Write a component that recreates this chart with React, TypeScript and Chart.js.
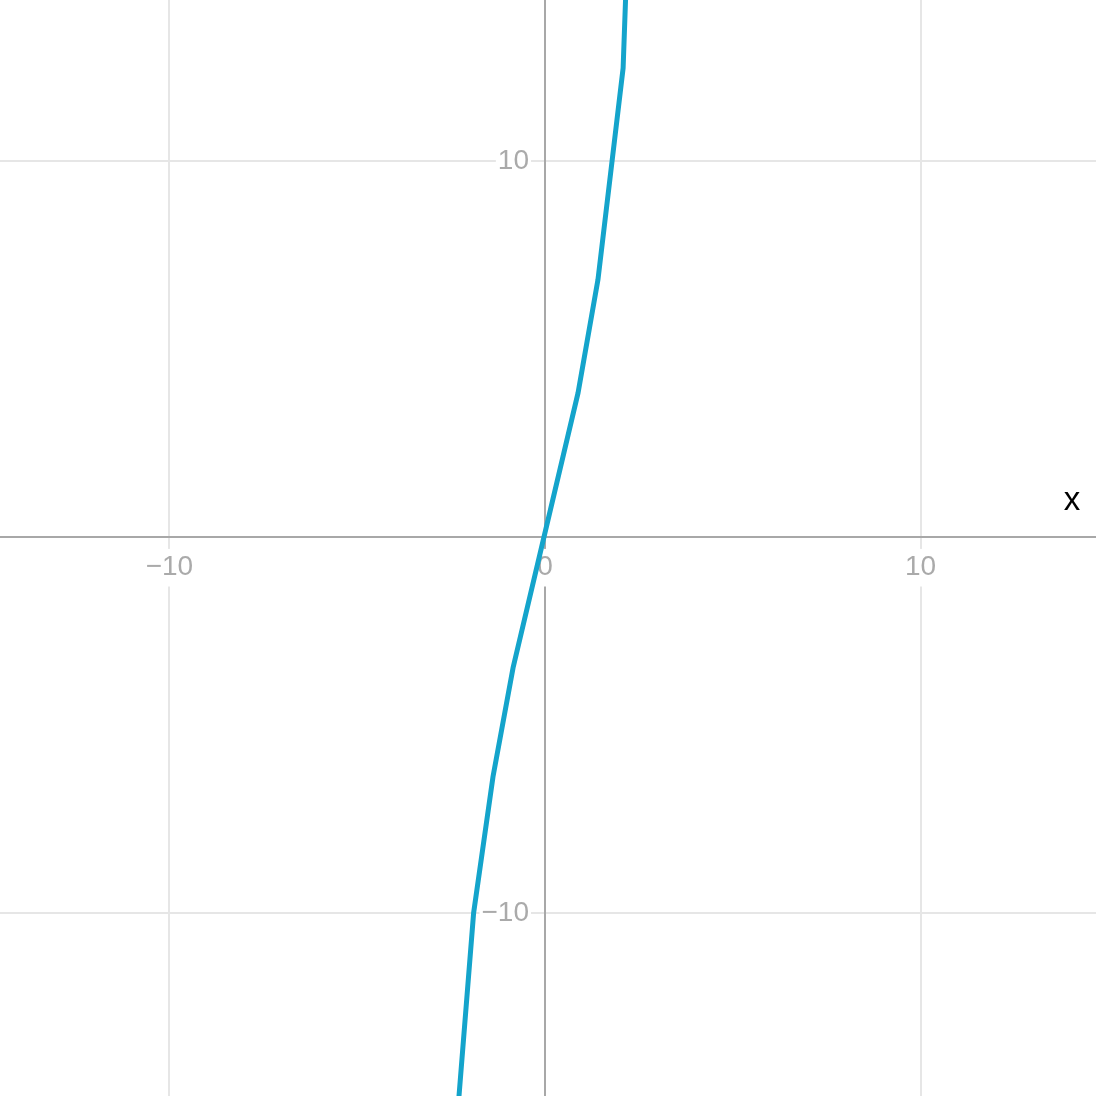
import React, { useEffect, useRef } from "react";
import { Chart, registerables } from "chart.js";

Chart.register(...registerables);

const xValues = [-2.3, -1.9, -1.385, -0.85, 0.88, 1.41, 2.08, 2.17];
const yValues = [-15, -10.0, -6.38, -3.48, 3.83, 6.84, 12.47, 15];
const tickValues = [-10, 0, 10];
const xRange = [-14.51, 14.67];
const yRange = [-14.87, 14.28];
const axisLabel = "x";

const FONT = "'Liberation Sans', Arial, sans-serif";
const TICK_SIZE = 28;
const fmt = (v: number) => (v < 0 ? "\u2212" + String(-v) : String(v));

export default function App() {
  const ref = useRef<HTMLCanvasElement | null>(null);
  useEffect(() => {
    if (!ref.current) return;
    const labelPlugin = {
      id: "axisLabel",
      beforeDraw(chart: any) {
        // shift y tick labels away from the centered axis line, fit backdrops to text
        const ctx = chart.ctx;
        const ys = chart.scales.y;
        const items = ys.getLabelItems(chart.chartArea);
        ctx.save();
        ctx.font = `${TICK_SIZE}px ${FONT}`;
        items.forEach((it: any) => {
          if (it.__shifted) return;
          it.__shifted = true;
          it.options.translation[0] -= 16;
          const bd = it.options.backdrop;
          if (bd) {
            const w = ctx.measureText(String(it.label)).width;
            bd.left = -w - 2;
            bd.width = w + 4;
          }
        });
        ctx.restore();
      },
      afterDraw(chart: any) {
        const ctx = chart.ctx;
        const ys = chart.scales.y;
        const xs = chart.scales.x;
        ctx.save();
        ctx.fillStyle = "#000";
        ctx.font = `33px ${FONT}`;
        ctx.textAlign = "center";
        ctx.textBaseline = "middle";
        ctx.fillText(axisLabel, xs.right - 24, ys.getPixelForValue(0) - 36);
        ctx.restore();
      },
    };
    const tickFilter = (scale: any) => {
      scale.ticks = tickValues.map((v) => ({ value: v }));
    };
    const noPad = (scale: any) => {
      scale.paddingTop = 0;
      scale.paddingBottom = 0;
      scale.paddingLeft = 0;
      scale.paddingRight = 0;
    };
    const chart = new Chart(ref.current, {
      type: "line",
      data: {
        datasets: [
          {
            data: xValues.map((x, i) => ({ x, y: yValues[i] })),
            borderColor: "#14a4cb",
            borderWidth: 5,
            pointRadius: 0,
            fill: false,
            tension: 0,
          },
        ],
      },
      options: {
        animation: false,
        responsive: false,
        maintainAspectRatio: false,
        layout: { padding: 0, autoPadding: false },
        plugins: { legend: { display: false }, tooltip: { enabled: false } },
        scales: {
          y: {
            type: "linear",
            position: { x: 0 } as any,
            min: yRange[0],
            max: yRange[1],
            afterBuildTicks: tickFilter,
            afterFit: noPad,
            grid: { color: "#e6e6e6", lineWidth: 2, drawTicks: false },
            border: { color: "#a8a8a8", width: 2 },
            ticks: {
              color: "#aaaaaa",
              font: { size: TICK_SIZE, family: FONT },
              padding: 0,
              showLabelBackdrop: true,
              backdropColor: "#ffffff",
              backdropPadding: 2,
              callback: (v: any) => (v === 0 ? null : fmt(v)),
            } as any,
          },
          x: {
            type: "linear",
            position: { y: 0 } as any,
            min: xRange[0],
            max: xRange[1],
            afterBuildTicks: tickFilter,
            afterFit: noPad,
            grid: { color: "#e6e6e6", lineWidth: 2, drawTicks: false },
            border: { color: "#a8a8a8", width: 2 },
            ticks: {
              color: "#aaaaaa",
              font: { size: TICK_SIZE, family: FONT },
              padding: 14,
              maxRotation: 0,
              showLabelBackdrop: true,
              backdropColor: "#ffffff",
              backdropPadding: 2,
              callback: (v: any) => fmt(v),
            } as any,
          },
        },
      },
      plugins: [labelPlugin],
    });
    return () => chart.destroy();
  }, []);
  return (
    <div style={{ position: "absolute", left: 0, top: 0, width: 1096, height: 1096, background: "#fff" }}>
      <canvas ref={ref} width={1096} height={1096} style={{ display: "block" }} />
    </div>
  );
}
